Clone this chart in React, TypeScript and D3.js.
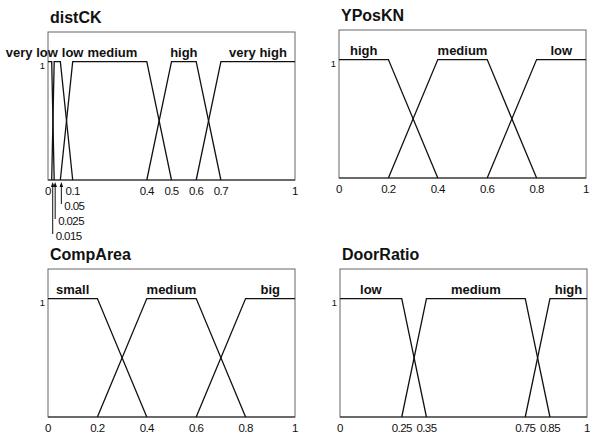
import React from "react";
import * as d3 from "d3";

// distCK linguistic terms and trapezoid break points [a, b, c, d]
const distCKTerms = ["very low", "low", "medium", "high", "very high"];
const distCKBreaks = [
  [0, 0, 0.015, 0.025],
  [0.015, 0.025, 0.05, 0.1],
  [0.05, 0.1, 0.4, 0.5],
  [0.4, 0.5, 0.6, 0.7],
  [0.6, 0.7, 1, 1],
];
const distCKTicks = [0, 0.1, 0.4, 0.5, 0.6, 0.7, 1];
const distCKCallouts = [0.05, 0.025, 0.015];

// YPosKN
const yPosTerms = ["high", "medium", "low"];
const yPosBreaks = [
  [0, 0, 0.2, 0.4],
  [0.2, 0.4, 0.6, 0.8],
  [0.6, 0.8, 1, 1],
];
const yPosTicks = [0, 0.2, 0.4, 0.6, 0.8, 1];

// CompArea
const compAreaTerms = ["small", "medium", "big"];
const compAreaBreaks = [
  [0, 0, 0.2, 0.4],
  [0.2, 0.4, 0.6, 0.8],
  [0.6, 0.8, 1, 1],
];
const compAreaTicks = [0, 0.2, 0.4, 0.6, 0.8, 1];

// DoorRatio
const doorTerms = ["low", "medium", "high"];
const doorBreaks = [
  [0, 0, 0.25, 0.35],
  [0.25, 0.35, 0.75, 0.85],
  [0.75, 0.85, 1, 1],
];
const doorTicks = [0, 0.25, 0.35, 0.75, 0.85, 1];

const W = 590;
const H = 439;
const PW = 247;
const PH = 148;
const SANS = "'Liberation Sans', Arial, sans-serif";
const TERM_FONT = `bold 13px ${SANS}`;

let measureCtx: CanvasRenderingContext2D | null = null;
function textWidth(s: string, font: string): number {
  if (typeof document === "undefined") return s.length * 7;
  if (!measureCtx) measureCtx = document.createElement("canvas").getContext("2d");
  if (!measureCtx) return s.length * 7;
  measureCtx.font = font;
  return measureCtx.measureText(s).width;
}

function trapezoid([a, b, c, d]: number[]): [number, number][] {
  const pts: [number, number][] = [];
  if (a < b) pts.push([a, 0]);
  pts.push([b, 1], [c, 1]);
  if (c < d) pts.push([d, 0]);
  return pts;
}

type PanelProps = {
  title: string;
  terms: string[];
  breaks: number[][];
  ticks: number[];
  callouts?: number[];
  left: number;
  top: number;
};

function Panel({ title, terms, breaks, ticks, callouts = [], left, top }: PanelProps) {
  const x = d3.scaleLinear().domain([0, 1]).range([left, left + PW]);
  const y = d3.scaleLinear().domain([0, 1.25]).range([top + PH, top]);
  const line = d3
    .line<[number, number]>()
    .x((p) => x(p[0]))
    .y((p) => y(p[1]));

  // term labels centred over their plateaus, pushed apart where they collide
  const widths = terms.map((t) => textWidth(t, TERM_FONT));
  const centers = breaks.map((b) => (x(b[1]) + x(b[2])) / 2);
  const gap = 4;
  for (let iter = 0; iter < 60; iter++) {
    for (let i = 0; i < centers.length - 1; i++) {
      const overlap =
        centers[i] + widths[i] / 2 + gap - (centers[i + 1] - widths[i + 1] / 2);
      if (overlap > 0) {
        centers[i] -= overlap / 2;
        centers[i + 1] += overlap / 2;
      }
    }
    const last = centers.length - 1;
    const over = centers[last] + widths[last] / 2 - (left + PW);
    if (over > 0) centers[last] -= over;
    const under = 4 - (centers[0] - widths[0] / 2);
    if (under > 0) centers[0] += under;
  }

  const bottom = top + PH;
  const fmt = (v: number) => String(v);
  const tickFont = { fontFamily: SANS, fontSize: 11.5, letterSpacing: -0.6, fill: "#111" };

  return (
    <g>
      <text
        x={left + 2}
        y={top - 9}
        fontFamily={SANS}
        fontWeight="bold"
        fontSize={16}
        fill="#111"
      >
        {title}
      </text>
      <rect
        x={left}
        y={top}
        width={PW}
        height={PH}
        fill="none"
        stroke="#666"
        strokeWidth={1}
      />
      <line x1={left} x2={left + PW} y1={bottom} y2={bottom} stroke="#222" strokeWidth={1.2} />
      {breaks.map((b, i) => (
        <path
          key={i}
          d={line(trapezoid(b)) || ""}
          fill="none"
          stroke="#111"
          strokeWidth={1.3}
        />
      ))}
      {terms.map((t, i) => (
        <text
          key={t + i}
          x={centers[i]}
          y={y(1) - 5}
          textAnchor="middle"
          fontFamily={SANS}
          fontWeight="bold"
          fontSize={13}
          fill="#111"
        >
          {t}
        </text>
      ))}
      <text
        x={left - 3}
        y={y(1) + 7}
        textAnchor="end"
        fontFamily={SANS}
        fontSize={9.5}
        fill="#111"
      >
        1
      </text>
      {ticks.map((v) => (
        <text key={v} x={x(v)} y={bottom + 15} textAnchor="middle" {...tickFont}>
          {fmt(v)}
        </text>
      ))}
      {callouts.map((v, i) => {
        const base = bottom + 15 + 15 * (i + 1);
        const cx = x(v) + 1;
        const ay = bottom + 2;
        return (
          <g key={v}>
            <line x1={cx} x2={cx} y1={ay + 2} y2={base - 6} stroke="#111" strokeWidth={1} />
            <path
              d={`M${cx - 1.8},${ay + 5}L${cx},${ay}L${cx + 1.8},${ay + 5}Z`}
              fill="#111"
            />
            <text x={cx + 3} y={base} {...tickFont}>
              {fmt(v)}
            </text>
          </g>
        );
      })}
    </g>
  );
}

export default function App() {
  return (
    <svg
      width={W}
      height={H}
      viewBox={`0 0 ${W} ${H}`}
      style={{ position: "absolute", left: 0, top: 0, background: "#fff" }}
    >
      <rect width={W} height={H} fill="#fff" />
      <Panel
        title="distCK"
        terms={distCKTerms}
        breaks={distCKBreaks}
        ticks={distCKTicks}
        callouts={distCKCallouts}
        left={48}
        top={32}
      />
      <Panel
        title="YPosKN"
        terms={yPosTerms}
        breaks={yPosBreaks}
        ticks={yPosTicks}
        left={339}
        top={30}
      />
      <Panel
        title="CompArea"
        terms={compAreaTerms}
        breaks={compAreaBreaks}
        ticks={compAreaTicks}
        left={48}
        top={269}
      />
      <Panel
        title="DoorRatio"
        terms={doorTerms}
        breaks={doorBreaks}
        ticks={doorTicks}
        left={340}
        top={269}
      />
    </svg>
  );
}
